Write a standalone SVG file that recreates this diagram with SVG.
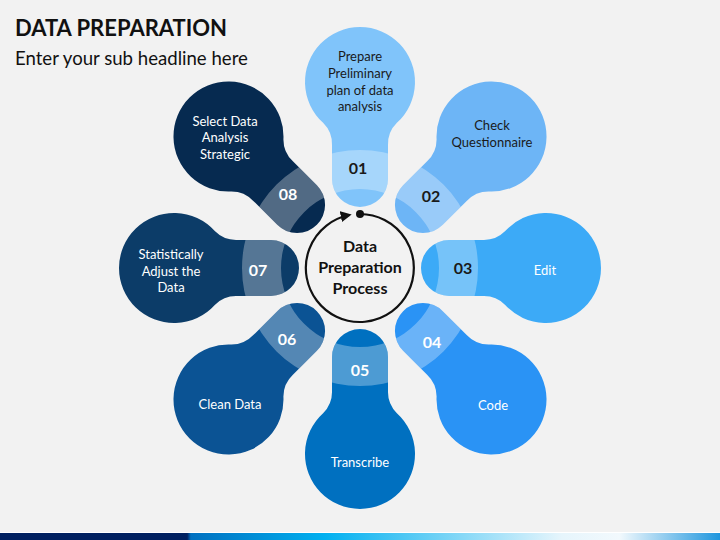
<svg xmlns="http://www.w3.org/2000/svg" xmlns:xlink="http://www.w3.org/1999/xlink" width="720" height="540" viewBox="0 0 720 540">
<style>
.t{font-family:Lato,"Liberation Sans",sans-serif;}
.title{font-size:22px;font-weight:700;fill:#111;}
.sub{font-size:18.6px;fill:#111;}
.lbl{font-size:13px;text-anchor:middle;}
.num{font-size:16px;font-weight:700;text-anchor:middle;}
.ctr{font-size:16px;font-weight:700;text-anchor:middle;fill:#111;}
.dk{fill:#1a1a1a;}
.wh{fill:#ffffff;}
.band{fill:#ffffff;opacity:0.3;}
</style>
<defs>
<path id="petal" d="M28,-89 L28,-122.9 A30,30 0 0 1 36.9,-145.2 A55,55 0 1 0 -36.9,-145.2 A30,30 0 0 1 -28,-122.9 L-28,-89 A28,28 0 0 0 28,-89 Z"/>
<clipPath id="pc"><use xlink:href="#petal" href="#petal"/></clipPath>
<path id="ring" fill-rule="evenodd" d="M0,-118 A118,118 0 1 1 0,118 A118,118 0 1 1 0,-118 Z M0,-79 A79,79 0 1 1 0,79 A79,79 0 1 1 0,-79 Z"/>
<linearGradient id="bar" x1="0" y1="0" x2="1" y2="0">
<stop offset="0" stop-color="#002060"/>
<stop offset="0.26" stop-color="#002060"/>
<stop offset="0.265" stop-color="#0070C0"/>
<stop offset="0.45" stop-color="#00B0F0"/>
<stop offset="0.78" stop-color="#E6F5FC"/>
<stop offset="0.86" stop-color="#F2F9FD"/>
<stop offset="1" stop-color="#1E96DE"/>
</linearGradient>
<marker id="arr" viewBox="0 0 10 10" refX="8" refY="5" markerWidth="5" markerHeight="5" orient="auto" markerUnits="strokeWidth">
<path d="M0,0 L10,5 L0,10 Z" fill="#111"/>
</marker>
</defs>
<rect width="720" height="540" fill="#F2F2F2"/>
<text class="t title" x="15" y="36">DATA PREPARATION</text>
<text class="t sub" x="15" y="65">Enter your sub headline here</text>

<g id="node01">
<g transform="translate(360,268) rotate(0)"><use href="#petal" fill="#80C4FA"/><use href="#ring" class="band" clip-path="url(#pc)"/></g>
<text class="t lbl dk"><tspan x="360" y="61">Prepare</tspan><tspan x="360" y="78">Preliminary</tspan><tspan x="360" y="94.5">plan of data</tspan><tspan x="360" y="111">analysis</tspan></text>
<text class="t num dk" x="358" y="174">01</text>
</g>
<g id="node02">
<g transform="translate(360,268) rotate(45)"><use href="#petal" fill="#6DB5F6"/><use href="#ring" class="band" clip-path="url(#pc)"/></g>
<text class="t lbl dk"><tspan x="492" y="130">Check</tspan><tspan x="492" y="147">Questionnaire</tspan></text>
<text class="t num dk" x="431" y="202">02</text>
</g>
<g id="node03">
<g transform="translate(360,268) rotate(90)"><use href="#petal" fill="#3CAAF7"/><use href="#ring" class="band" clip-path="url(#pc)"/></g>
<text class="t lbl wh" x="545" y="275">Edit</text>
<text class="t num dk" x="463" y="274">03</text>
</g>
<g id="node04">
<g transform="translate(360,268) rotate(135)"><use href="#petal" fill="#2A93F5"/><use href="#ring" class="band" clip-path="url(#pc)"/></g>
<text class="t lbl wh" x="493" y="410">Code</text>
<text class="t num wh" x="432" y="348">04</text>
</g>
<g id="node05">
<g transform="translate(360,268) rotate(180)"><use href="#petal" fill="#0070C0"/><use href="#ring" class="band" clip-path="url(#pc)"/></g>
<text class="t lbl wh" x="360" y="467">Transcribe</text>
<text class="t num wh" x="360" y="376">05</text>
</g>
<g id="node06">
<g transform="translate(360,268) rotate(225)"><use href="#petal" fill="#0B5394"/><use href="#ring" class="band" clip-path="url(#pc)"/></g>
<text class="t lbl wh" x="230" y="409">Clean Data</text>
<text class="t num wh" x="287" y="345">06</text>
</g>
<g id="node07">
<g transform="translate(360,268) rotate(270)"><use href="#petal" fill="#0C3C68"/><use href="#ring" class="band" clip-path="url(#pc)"/></g>
<text class="t lbl wh"><tspan x="171" y="259">Statistically</tspan><tspan x="171" y="276">Adjust the</tspan><tspan x="171" y="292">Data</tspan></text>
<text class="t num wh" x="258" y="276">07</text>
</g>
<g id="node08">
<g transform="translate(360,268) rotate(315)"><use href="#petal" fill="#062A50"/><use href="#ring" class="band" clip-path="url(#pc)"/></g>
<text class="t lbl wh"><tspan x="225" y="126">Select Data</tspan><tspan x="225" y="142">Analysis</tspan><tspan x="225" y="159">Strategic</tspan></text>
<text class="t num wh" x="288" y="200">08</text>
</g>

<g id="center">
<text class="t ctr"><tspan x="360" y="252">Data</tspan><tspan x="360" y="273">Preparation</tspan><tspan x="360" y="294">Process</tspan></text>
</g>
<g id="connectors">
<path d="M360,214 A54,54 0 1 1 349.5,215" fill="none" stroke="#111" stroke-width="2.2" marker-end="url(#arr)"/>
<circle cx="360" cy="214" r="4" fill="#111"/>
</g>

<rect x="0" y="532" width="720" height="1" fill="#ffffff"/>
<rect x="0" y="533" width="720" height="7" fill="url(#bar)"/>
</svg>
